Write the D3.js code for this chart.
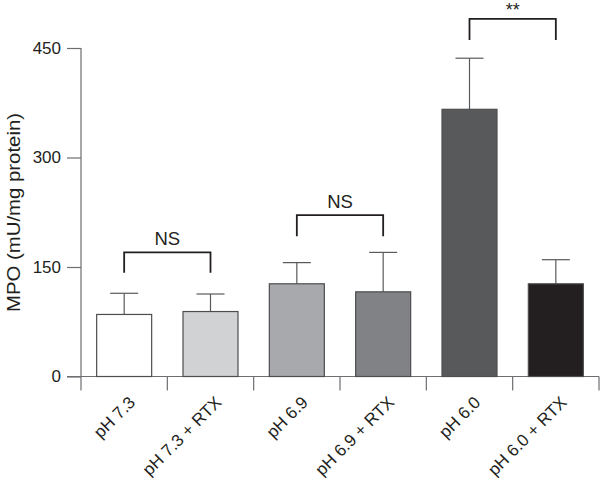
<!DOCTYPE html>
<html>
<head>
<meta charset="utf-8">
<script src="https://cdn.jsdelivr.net/npm/d3@7"></script>
<style>
  html, body { margin: 0; padding: 0; background: #fff; }
  svg { display: block; font-family: "Liberation Sans", Arial, Helvetica, sans-serif; }
</style>
</head>
<body>
<svg id="chart" width="600" height="480"></svg>
<script>
// ---- data ----
const categories = ["pH 7.3", "pH 7.3 + RTX", "pH 6.9", "pH 6.9 + RTX", "pH 6.0", "pH 6.0 + RTX"];
const means      = [85, 89, 127, 116, 366, 127];
const errUpper   = [114, 113, 156, 170, 436, 160];
const barColors  = ["#ffffff", "#d1d2d4", "#a7a9ac", "#808285", "#58595b", "#231f20"];
const yTicks     = [0, 150, 300, 450];
const yLabel     = "MPO (mU/mg protein)";
// significance brackets: [from index, to index, bar level, leg bottom level, label]
const brackets = [
  {from: 0, to: 1, top: 170, leg: 142, label: "NS"},
  {from: 2, to: 3, top: 221, leg: 192, label: "NS"},
  {from: 4, to: 5, top: 490, leg: 461, label: "**"}
];

const svg = d3.select("#chart");
const x0 = 81, x1 = 599, yBase = 376.5, yTop = 48;

const x = d3.scaleBand().domain(categories).range([x0, x1]).paddingInner(0.363).paddingOuter(0.1815);
const y = d3.scaleLinear().domain([0, 450]).range([yBase, yTop]);

const axisColor = "#6d6e71";

// y axis
const yAxis = svg.append("g").attr("transform", `translate(${x0},0)`)
  .call(d3.axisLeft(y).tickValues(yTicks).tickSize(14).tickPadding(6).tickFormat(d3.format("d")));
yAxis.select(".domain").remove();
yAxis.selectAll(".tick line").attr("stroke", axisColor).attr("stroke-width", 1.2);
yAxis.selectAll(".tick text").attr("font-size", 17).attr("fill", "#231f20")
  .attr("font-family", "Liberation Sans, Arial, sans-serif");
svg.append("line").attr("x1", x0).attr("x2", x0).attr("y1", y(450)).attr("y2", yBase + 14)
  .attr("stroke", axisColor).attr("stroke-width", 1.2);

// x axis line and boundary ticks
svg.append("line").attr("x1", x0 - 14).attr("x2", x1).attr("y1", yBase).attr("y2", yBase)
  .attr("stroke", axisColor).attr("stroke-width", 1.2);
const step = x.step();
const bounds = d3.range(1, categories.length + 1).map(i => x(categories[i - 1]) + x.bandwidth() + step * x.paddingInner() / 2);
svg.selectAll(".xtick").data(bounds).join("line")
  .attr("x1", d => d).attr("x2", d => d).attr("y1", yBase).attr("y2", yBase + 14)
  .attr("stroke", axisColor).attr("stroke-width", 1.2);

// x labels rotated
svg.selectAll(".xlab").data(categories).join("text")
  .attr("transform", d => `translate(${x(d) + x.bandwidth() / 2 + 12},${yBase + 27}) rotate(-45)`)
  .attr("text-anchor", "end")
  .attr("font-size", 17)
  .attr("fill", "#231f20")
  .text(d => d);

// error bars
const capW = 28;
svg.selectAll(".err").data(categories).join("line")
  .attr("x1", d => x(d) + x.bandwidth() / 2).attr("x2", d => x(d) + x.bandwidth() / 2)
  .attr("y1", (d, i) => y(means[i])).attr("y2", (d, i) => y(errUpper[i]))
  .attr("stroke", "#58595b").attr("stroke-width", 1.2);
svg.selectAll(".cap").data(categories).join("line")
  .attr("x1", d => x(d) + x.bandwidth() / 2 - capW / 2).attr("x2", d => x(d) + x.bandwidth() / 2 + capW / 2)
  .attr("y1", (d, i) => y(errUpper[i])).attr("y2", (d, i) => y(errUpper[i]))
  .attr("stroke", "#58595b").attr("stroke-width", 1.2);

// bars
svg.selectAll(".bar").data(categories).join("rect")
  .attr("x", d => x(d)).attr("width", x.bandwidth())
  .attr("y", (d, i) => y(means[i])).attr("height", (d, i) => yBase - y(means[i]))
  .attr("fill", (d, i) => barColors[i])
  .attr("stroke", "#4d4d4f").attr("stroke-width", 1.2);

// brackets
brackets.forEach(b => {
  const xa = x(categories[b.from]) + x.bandwidth() / 2;
  const xb = x(categories[b.to]) + x.bandwidth() / 2;
  svg.append("path")
    .attr("d", `M${xa},${y(b.leg)}V${y(b.top)}H${xb}V${y(b.leg)}`)
    .attr("fill", "none").attr("stroke", "#231f20").attr("stroke-width", 1.8);
  const isStar = b.label === "**";
  svg.append("text")
    .attr("x", (xa + xb) / 2)
    .attr("y", y(b.top) - (isStar ? 3 : 7))
    .attr("text-anchor", "middle")
    .attr("font-size", isStar ? 18 : 18.5)
    .attr("fill", "#231f20")
    .text(b.label);
});

// y label
svg.append("text")
  .attr("transform", `translate(20,${(113 + 312) / 2}) rotate(-90)`)
  .attr("text-anchor", "middle")
  .attr("font-size", 18)
  .attr("fill", "#231f20")
  .attr("textLength", 199)
  .attr("lengthAdjust", "spacingAndGlyphs")
  .text(yLabel);
</script>
</body>
</html>
